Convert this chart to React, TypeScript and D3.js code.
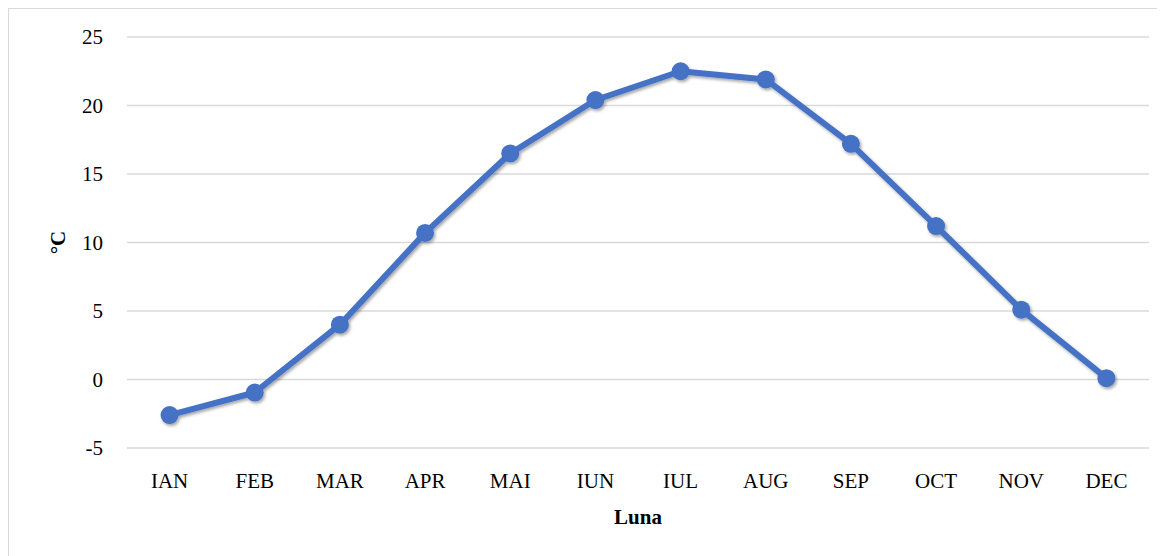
import React, { useEffect, useRef } from "react";
import * as d3 from "d3";

const months = ["IAN", "FEB", "MAR", "APR", "MAI", "IUN", "IUL", "AUG", "SEP", "OCT", "NOV", "DEC"];
const temps = [-2.6, -0.95, 4.0, 10.7, 16.5, 20.4, 22.5, 21.9, 17.2, 11.2, 5.1, 0.1];
const yTicks = [-5, 0, 5, 10, 15, 20, 25];

export default function App() {
  const ref = useRef<SVGSVGElement>(null);

  useEffect(() => {
    const width = 1160;
    const height = 550;
    const margin = { top: 29, left: 119, bottom: 110, right: 19 };
    const font = "'Liberation Serif', 'DejaVu Serif', serif";

    const svg = d3.select(ref.current);
    svg.selectAll("*").remove();

    const defs = svg.append("defs");
    const f = defs.append("filter").attr("id", "shadow").attr("x", "-20%").attr("y", "-20%").attr("width", "140%").attr("height", "140%");
    f.append("feDropShadow").attr("dx", 1.5).attr("dy", 2).attr("stdDeviation", 1.8).attr("flood-color", "#000").attr("flood-opacity", 0.35);

    svg.append("rect")
      .attr("x", 0.5).attr("y", 0.5)
      .attr("width", width + 10).attr("height", height + 10)
      .attr("fill", "white").attr("stroke", "#d9d9d9");

    const x = d3.scaleBand().domain(months).range([margin.left, width - margin.right]);
    const y = d3.scaleLinear().domain([-5, 25]).range([height - margin.bottom, margin.top]);

    const g = svg.append("g");

    g.selectAll("line.grid").data(yTicks).enter()
      .append("line")
      .attr("x1", margin.left).attr("x2", width - margin.right)
      .attr("y1", d => y(d)).attr("y2", d => y(d))
      .attr("stroke", "#d9d9d9").attr("stroke-width", 1.5);

    g.selectAll("text.ytick").data(yTicks).enter()
      .append("text")
      .attr("x", margin.left - 24)
      .attr("y", d => y(d))
      .attr("dy", "0.35em")
      .attr("text-anchor", "end")
      .attr("font-family", font).attr("font-size", 21).attr("fill", "#000")
      .text(d => d);

    g.selectAll("text.xtick").data(months).enter()
      .append("text")
      .attr("x", d => x(d)! + x.bandwidth() / 2)
      .attr("y", y(-5) + 40)
      .attr("text-anchor", "middle")
      .attr("font-family", font).attr("font-size", 21).attr("fill", "#000")
      .text(d => d);

    const line = d3.line<number>()
      .x((d, i) => x(months[i])! + x.bandwidth() / 2)
      .y(d => y(d));

    const series = g.append("g").attr("filter", "url(#shadow)");
    series.append("path")
      .datum(temps)
      .attr("d", line)
      .attr("fill", "none")
      .attr("stroke", "#4472c4")
      .attr("stroke-width", 6)
      .attr("stroke-linejoin", "round");

    series.selectAll("circle").data(temps).enter()
      .append("circle")
      .attr("cx", (d, i) => x(months[i])! + x.bandwidth() / 2)
      .attr("cy", d => y(d))
      .attr("r", 9)
      .attr("fill", "#4472c4");

    svg.append("text")
      .attr("x", x.range()[0] + (x.range()[1] - x.range()[0]) / 2)
      .attr("y", 516)
      .attr("text-anchor", "middle")
      .attr("font-family", font).attr("font-size", 21).attr("font-weight", "bold")
      .text("Luna");

    svg.append("text")
      .attr("transform", `translate(57, ${y(10)}) rotate(-90)`)
      .attr("text-anchor", "middle")
      .attr("font-family", font).attr("font-size", 21).attr("font-weight", "bold")
      .text("°C");
  }, []);

  return (
    <svg ref={ref} width={1160} height={550} style={{ display: "block" }} />
  );
}
